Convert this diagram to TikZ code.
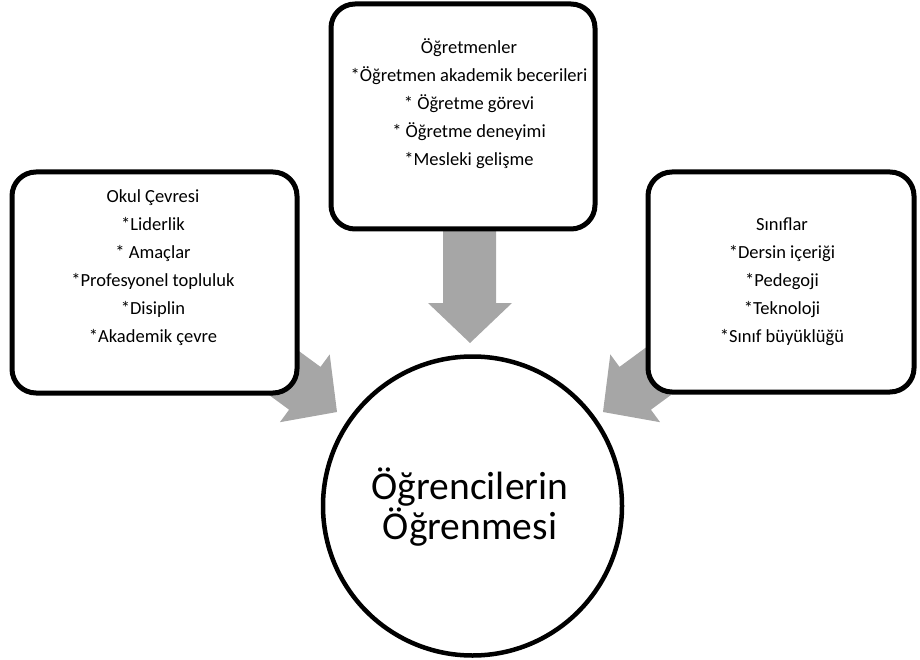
\documentclass[tikz,border=0pt]{standalone}
\usepackage{fontspec}
\setmainfont{Carlito}
\definecolor{arrowgray}{RGB}{166,166,166}
\begin{document}
\begin{tikzpicture}[x=1pt,y=-1pt,
  factorbox/.style={draw=black, fill=white, line width=5pt, rounded corners=24pt,
    inner sep=0pt},
  factortext/.style={align=center, inner sep=0pt, font=\fontsize{18.5}{28}\selectfont},
  blockarrow/.style={fill=arrowgray, draw=none},
  centre/.style={draw=black, fill=white, circle, line width=4.5pt, inner sep=0pt,
    minimum size=299pt},
  centretext/.style={align=center, inner sep=0pt, font=\fontsize{39.5}{40}\selectfont}]
\useasboundingbox (0,0) rectangle (920,660);

% block arrows pointing at the centre circle (drawn first, boxes cover their tails)
\fill[blockarrow] (443,228) -- (496,228) -- (496,303) -- (512,303) -- (470,343)
  -- (428,303) -- (443,303) -- cycle;
\fill[blockarrow] (228.6,365.3) -- (260.0,322.5) -- (320.5,366.9) -- (329.7,354.4)
  -- (337,412) -- (279.9,422.2) -- (289.1,409.7) -- cycle;
\fill[blockarrow] (711.4,365.3) -- (680.0,322.5) -- (619.5,366.9) -- (610.3,354.4)
  -- (603,412) -- (660.1,422.2) -- (650.9,409.7) -- cycle;

% factor boxes
\node[factorbox, minimum width=264pt, minimum height=225pt] (teachers) at (463,116.5) {};
\node[factorbox, minimum width=285pt, minimum height=221pt] (school) at (154.5,282.5) {};
\node[factorbox, minimum width=266pt, minimum height=220pt] (classes) at (781,282) {};

\node[factortext] (teacherstext) at (469,104) {Öğretmenler\\*Öğretmen akademik becerileri\\* Öğretme görevi\\* Öğretme deneyimi\\*Mesleki gelişme};
\node[factortext] (schooltext) at (153,268) {Okul Çevresi\\*Liderlik\\* Amaçlar\\*Profesyonel topluluk\\*Disiplin\\*Akademik çevre};
\node[factortext] (classestext) at (782,282) {Sınıflar\\*Dersin içeriği\\*Pedegoji\\*Teknoloji\\*Sınıf büyüklüğü};

% centre
\node[centre] (learning) at (472.5,506) {};
\node[centretext] (learningtext) at (470,507) {Öğrencilerin\\Öğrenmesi};
\end{tikzpicture}
\end{document}
